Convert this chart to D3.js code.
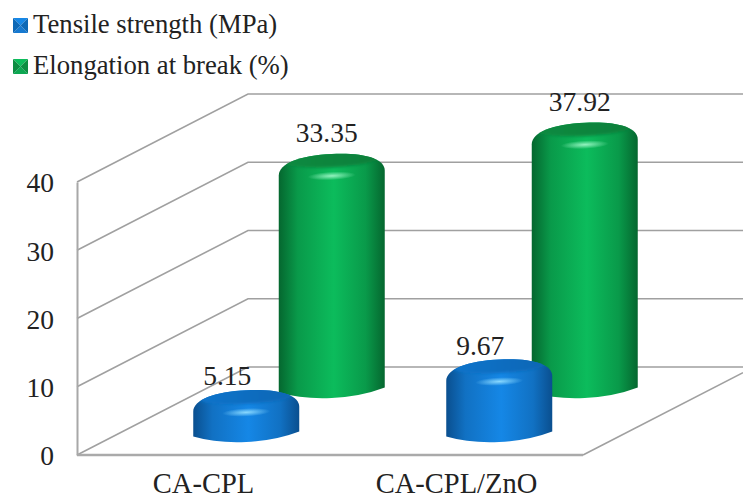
<html>
<head>
  <title>Tensile strength and elongation at break</title>
  <script src="https://d3js.org/d3.v7.min.js"></script>
  <style>
    body { margin: 0; background: #fff; }
    svg { display: block; }
    text { font-family: "Liberation Serif", serif; font-size: 26.7px; fill: #222; }
    .value { font-size: 27.5px; }
    .category { font-size: 28.5px; }
    .grid { fill: none; stroke: #a0a0a0; stroke-width: 1.6; }
    .floor { stroke: #aaa; stroke-width: 2.4; }
    .y.axis path { stroke: #a8a8a8; stroke-width: 2; }
    .y.axis text { font-family: "Liberation Serif", serif; font-size: 27.5px; fill: #222; }
  </style>
</head>
<body>
  <svg id="chart" width="743" height="500"></svg>
  <script>
    const categories = ["CA-CPL", "CA-CPL/ZnO"];
    const seriesNames = ["Tensile strength (MPa)", "Elongation at break (%)"];
    const tensile = [5.15, 9.67];
    const elongation = [33.35, 37.92];
    const yTicks = [0, 10, 20, 30, 40];

    const svg = d3.select("#chart");
    const defs = svg.append("defs");

    // front plane of the box, and how far the back wall is shifted from it
    const x = d3.scaleBand().domain(categories).range([77, 583]);
    const y = d3.scaleLinear().domain([0, 40]).range([455, 182]);
    const depthX = 171, depthY = -88;
    const rightEdge = 743;

    const styles = [
      { id: "blue", values: tensile, depth: 0.25, edge: "#0a4f8f", mid: "#1587e6", cap: "#0c74cc", capEdge: "#0b66b4", glow: "#8fdcff", nudgeX: -19, nudgeY: -5 },
      { id: "green", values: elongation, depth: 0.75, edge: "#05672f", mid: "#0cbc5c", cap: "#078a40", capEdge: "#077f3a", glow: "#9af5c4", nudgeX: -5, nudgeY: -12 }
    ];

    styles.forEach(s => {
      const body = defs.append("linearGradient").attr("id", s.id + "-body");
      body.append("stop").attr("offset", "0%").attr("stop-color", s.edge);
      body.append("stop").attr("offset", "18%").attr("stop-color", d3.interpolateRgb(s.edge, s.mid)(0.6));
      body.append("stop").attr("offset", "52%").attr("stop-color", s.mid);
      body.append("stop").attr("offset", "82%").attr("stop-color", d3.interpolateRgb(s.edge, s.mid)(0.6));
      body.append("stop").attr("offset", "100%").attr("stop-color", s.edge);

      const cap = defs.append("linearGradient").attr("id", s.id + "-cap");
      cap.append("stop").attr("offset", "0%").attr("stop-color", s.cap);
      cap.append("stop").attr("offset", "100%").attr("stop-color", s.capEdge);

      const glow = defs.append("radialGradient").attr("id", s.id + "-glow");
      glow.append("stop").attr("offset", "0%").attr("stop-color", s.glow).attr("stop-opacity", 0.95);
      glow.append("stop").attr("offset", "100%").attr("stop-color", s.glow).attr("stop-opacity", 0);
    });

    const softFilter = (id, dev) => defs.append("filter").attr("id", id)
      .attr("x", "-10%").attr("y", "-30%").attr("width", "120%").attr("height", "160%")
      .append("feGaussianBlur").attr("stdDeviation", dev);
    softFilter("soft", 1.6);
    softFilter("swatch-soft", 0.6);

    // walls: each gridline runs back along the side wall, then along the back wall
    const grid = svg.append("g");
    yTicks.forEach(t => {
      const front = y(t);
      const back = front + depthY;
      const run = [[x.range()[0], front], [x.range()[0] + depthX, back], [rightEdge, back]];
      grid.append("path").attr("class", "grid").attr("d", d3.line()(run));
    });

    // floor edges
    grid.append("line").attr("class", "floor")
      .attr("x1", x.range()[0]).attr("x2", x.range()[1])
      .attr("y1", y(0)).attr("y2", y(0));
    const sideSlope = depthY / depthX;
    grid.append("line").attr("class", "grid")
      .attr("x1", x.range()[1]).attr("y1", y(0))
      .attr("x2", rightEdge).attr("y2", y(0) + (rightEdge - x.range()[1]) * sideSlope);

    const yAxis = d3.axisLeft(y).tickValues(yTicks).tickSize(0).tickPadding(23);
    const axisG = svg.append("g").attr("class", "y axis")
      .attr("transform", `translate(${x.range()[0]},0)`)
      .call(yAxis);
    axisG.selectAll("text").attr("dy", "0.36em");

    svg.append("g").selectAll("text").data(categories).join("text")
      .attr("class", "category")
      .attr("x", d => x(d) + x.bandwidth() / 2)
      .attr("y", 493)
      .attr("text-anchor", "middle")
      .text(d => d);

    // cylinders, back row first so the front row sits over it
    const rx = 53, ryTop = 9.5, ryBottom = 7, skew = -2.7;
    [styles[1], styles[0]].forEach(s => {
      const gBars = svg.append("g");
      s.values.forEach((v, i) => {
        const cx = x(categories[i]) + x.bandwidth() / 2 + depthX * s.depth;
        const shift = depthY * s.depth;
        const yBase = y(0) + shift + 2;
        const yTop = y(v) + shift + 2;
        const top = yTop - ryTop;
        // skewY tilts the ends but keeps the sides upright, bars are centred at local x=0
        const g = gBars.append("g")
          .attr("transform", `translate(${cx},0) skewY(${skew})`);
        const bodyPath = `M${-rx},${top + 19}`
          + `C${-rx},${top + 7} ${-rx * 0.6},${top} 0,${top}`
          + `C${rx * 0.6},${top} ${rx},${top + 7} ${rx},${top + 19}`
          + `L${rx},${yBase - 1}`
          + `Q${rx * 0.55},${yBase + ryBottom} 0,${yBase + ryBottom}`
          + `Q${-rx * 0.55},${yBase + ryBottom} ${-rx},${yBase - 1}Z`;
        g.append("path").attr("d", bodyPath).attr("fill", `url(#${s.id}-body)`);

        const clipId = `${s.id}-clip-${i}`;
        defs.append("clipPath").attr("id", clipId).append("path").attr("d", bodyPath);

        g.append("g").attr("clip-path", `url(#${clipId})`)
          .append("ellipse")
          .attr("cx", 0).attr("cy", top + 5.5)
          .attr("rx", rx * 0.92).attr("ry", 8)
          .attr("fill", `url(#${s.id}-cap)`)
          .attr("filter", "url(#soft)");

        g.append("ellipse")
          .attr("cx", 0).attr("cy", top + 22)
          .attr("rx", 24).attr("ry", 4.2)
          .attr("fill", `url(#${s.id}-glow)`);

        svg.append("text")
          .attr("x", cx + s.nudgeX)
          .attr("y", top + s.nudgeY)
          .attr("text-anchor", "middle")
          .attr("class", "value")
          .text(v.toFixed(2));
      });
    });
    svg.selectAll("text.value").raise();

    // legend with bevelled swatches
    const legend = svg.append("g");
    const swatch = 15;
    [styles[0], styles[1]].forEach((s, i) => {
      const top = [18, 59][i];
      const g = legend.append("g")
        .attr("transform", `translate(13,${top})`)
        .attr("filter", "url(#swatch-soft)");
      const c = swatch / 2;
      const shade = d3.interpolateRgb(s.edge, s.mid);
      const tri = (pts, fill) => g.append("path").attr("d", d3.line()(pts) + "Z").attr("fill", fill);
      tri([[0, 0], [swatch, 0], [c, c]], s.mid);
      tri([[0, swatch], [swatch, swatch], [c, c]], shade(0.75));
      tri([[0, 0], [0, swatch], [c, c]], shade(0.45));
      tri([[swatch, 0], [swatch, swatch], [c, c]], shade(0.45));
      legend.append("text")
        .attr("x", 33).attr("y", top + 15)
        .text(seriesNames[i]);
    });
  </script>
</body>
</html>
